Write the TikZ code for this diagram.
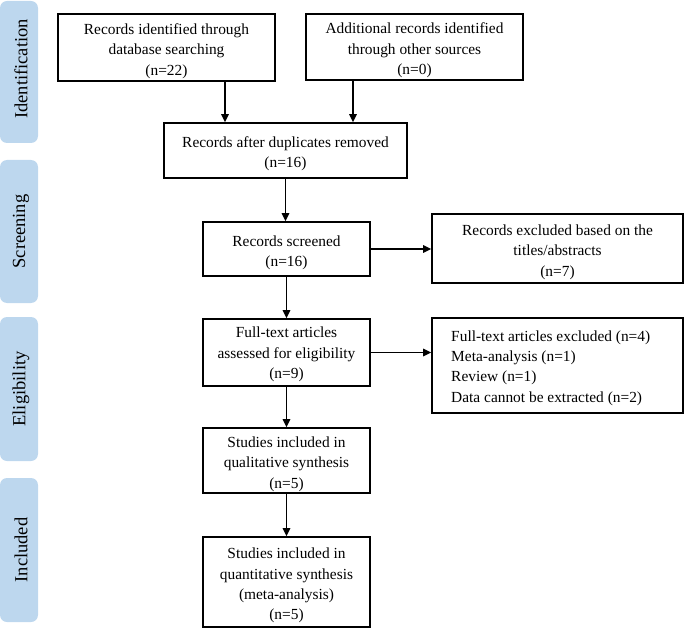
\documentclass[tikz,border=0pt]{standalone}
\usepackage{fontspec}
\setmainfont{Liberation Serif}
\usetikzlibrary{arrows.meta}
\definecolor{bandblue}{RGB}{189,215,238}
\begin{document}
\begin{tikzpicture}[x=1pt,y=-1pt,
  box/.style={draw=black,line width=1.6pt,inner sep=0pt},
  lbl/.style={align=center,yshift=-3.5pt,font=\fontsize{15.4}{20.3}\selectfont},
  band/.style={fill=bandblue,rounded corners=7pt},
  bandtext/.style={rotate=90,font=\fontsize{18.5}{22}\selectfont},
  arr/.style={line width=1.6pt,-{Triangle[length=8pt,width=7.5pt]}}]
\useasboundingbox (0,0) rectangle (685,628);
% side bands
\fill[band] (0,1) rectangle (38,143);
\fill[band] (0,160) rectangle (38,303);
\fill[band] (0,317) rectangle (38,461);
\fill[band] (0,478) rectangle (38,622);
\node[bandtext] (l1) at (21,69) {Identification};
\node[bandtext] (l2) at (21,231.5) {Screening};
\node[bandtext] (l3) at (21,389) {Eligibility};
\node[bandtext] (l4) at (21,550) {Included};
% boxes
\node[box,minimum width=217pt,minimum height=67pt,
  label={[lbl]center:{Records identified through\\database searching\\(n=22)}}] (b1) at (166.5,47.5) {};
\node[box,minimum width=217pt,minimum height=66pt,
  label={[lbl]center:{Additional records identified\\through other sources\\(n=0)}}] (b2) at (414.5,47) {};
\node[box,minimum width=243pt,minimum height=55pt,
  label={[lbl]center:{Records after duplicates removed\\(n=16)}}] (b3) at (285.5,150.5) {};
\node[box,minimum width=167pt,minimum height=54pt,
  label={[lbl]center:{Records screened\\(n=16)}}] (b4) at (286.5,249) {};
\node[box,minimum width=251pt,minimum height=69pt,
  label={[lbl]center:{Records excluded based on the\\titles/abstracts\\(n=7)}}] (b5) at (557.5,248.5) {};
\node[box,minimum width=167pt,minimum height=67pt,
  label={[lbl,yshift=1.5pt]center:{Full-text articles\\assessed for eligibility\\(n=9)}}] (b6) at (286.5,352.5) {};
\node[box,minimum width=251pt,minimum height=95pt] (b7) at (557.5,365.5) {};
\node[lbl,align=left,anchor=west,yshift=1pt] (t7) at ([xshift=16.5pt]b7.west)
  {Full-text articles excluded (n=4)\\Meta-analysis (n=1)\\Review (n=1)\\Data cannot be extracted (n=2)};
\node[box,minimum width=167pt,minimum height=65pt,
  label={[lbl]center:{Studies included in\\qualitative synthesis\\(n=5)}}] (b8) at (286.5,460.5) {};
\node[box,minimum width=167pt,minimum height=90pt,
  label={[lbl]center:{Studies included in\\quantitative synthesis\\(meta-analysis)\\(n=5)}}] (b9) at (286.5,582) {};
% connectors
\coordinate (x1) at (225,0);
\coordinate (x2) at (353,0);
\draw[arr] (b1.south -| x1) -- (x1 |- b3.north);
\draw[arr] (b2.south -| x2) -- (x2 |- b3.north);
\draw[arr] (b3.south) -- (b3.south |- b4.north);
\draw[arr] (b4.south) -- (b6.north);
\draw[arr] (b6.south) -- (b8.north);
\draw[arr] (b8.south) -- (b9.north);
\draw[arr] (b4.east) -- (b4.east -| b5.west);
\draw[arr] (b6.east) -- (b6.east -| b7.west);
\end{tikzpicture}
\end{document}
